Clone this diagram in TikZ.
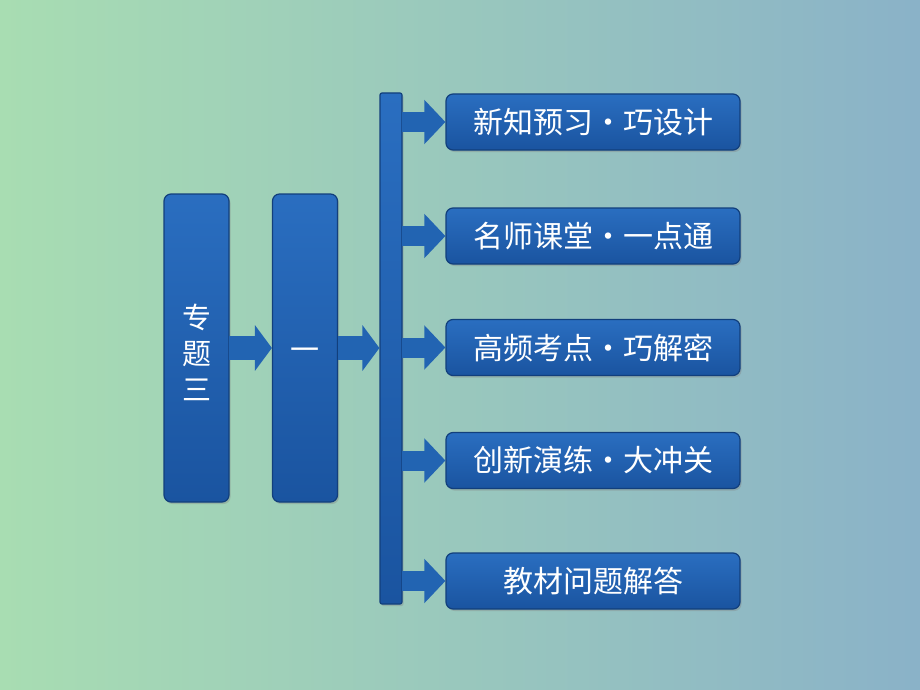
\documentclass[tikz,border=0pt]{standalone}
\usepackage{fontspec}
\newfontfamily\cjk{Noto Sans CJK SC}
\usetikzlibrary{arrows.meta,shadows,calc}
\definecolor{bgL}{HTML}{A8DDB2}
\definecolor{bgR}{HTML}{8AB2C8}
\definecolor{boxT}{HTML}{2A6EC0}
\definecolor{boxB}{HTML}{1A54A0}
\definecolor{boxE}{HTML}{123F7C}
\definecolor{arrC}{HTML}{2264B2}
\tikzset{
  bluebox/.style={draw=boxE, line width=1.2pt, top color=boxT, bottom color=boxB,
    rounded corners=7pt, text=white, font=\cjk,
    drop shadow={shadow xshift=1.5pt, shadow yshift=-2pt, opacity=0.35}},
  tallbox/.style={bluebox, minimum width=65pt, minimum height=308pt, inner sep=0pt, font=\cjk\fontsize{29}{36}\selectfont},
  itembox/.style={bluebox, minimum width=294pt, minimum height=56pt, inner sep=0pt, font=\cjk\fontsize{30}{32}\selectfont},
  barbox/.style={draw=boxE, line width=1.2pt, top color=boxT, bottom color=boxB, rounded corners=2pt,
    minimum width=22pt, minimum height=511pt, inner sep=0pt,
    drop shadow={shadow xshift=1.5pt, shadow yshift=-2pt, opacity=0.35}},
  bigarrow/.style={arrC, line width=24pt, -{Triangle[width=45pt,length=17pt]}, shorten <=-0.5pt},
  smallarrow/.style={arrC, line width=20pt, -{Triangle[width=43pt,length=21pt]}, shorten <=-0.5pt},
}
\begin{document}
\begin{tikzpicture}[x=1pt,y=-1pt]
\useasboundingbox (0,0) rectangle (920,690);
\shade[left color=bgL, right color=bgR] (0,0) rectangle (920,690);
\node[tallbox] (zt) at (196.5,348) {\raisebox{-4pt}[\height][\depth]{\parbox{40pt}{\centering 专\\题\\三}}};
\node[tallbox] (yi) at (305,348) {\raisebox{-6pt}[\height][\depth]{一}};
\node[barbox] (bar) at (391,348.5) {};
\node[itembox] (b1) at (593,122) {新知预习·巧设计};
\node[itembox] (b2) at (593,236) {名师课堂·一点通};
\node[itembox] (b3) at (593,347.5) {高频考点·巧解密};
\node[itembox] (b4) at (593,460.5) {创新演练·大冲关};
\node[itembox] (b5) at (593,581) {教材问题解答};
\draw[bigarrow] (zt.east) -- (yi.west);
\draw[bigarrow] (yi.east) -- (yi.east -| bar.west);
\foreach \b in {b1,b2,b3,b4,b5}{
  \draw[smallarrow] (bar.east |- \b.west) -- (\b.west);
}
\end{tikzpicture}
\end{document}
